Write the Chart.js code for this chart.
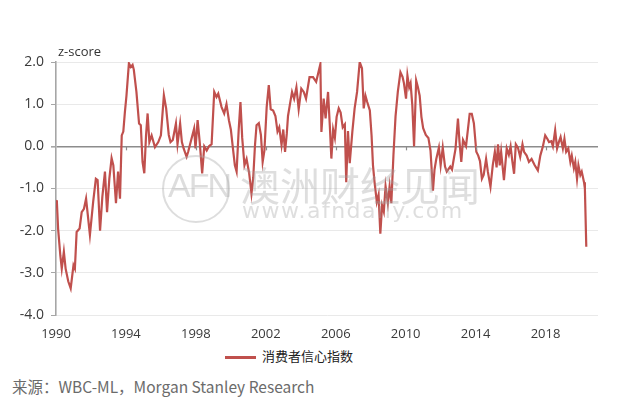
<!DOCTYPE html>
<html>
<head>
<meta charset="utf-8">
<script src="https://cdn.jsdelivr.net/npm/chart.js@4.4.0/dist/chart.umd.min.js"></script>
<style>
  body { margin: 0; background: #fff; }
  #wrap { position: relative; width: 640px; height: 411px; overflow: hidden; font-family: "Open Sans", sans-serif; }
  #chart-box { position: absolute; left: 0; top: 0; width: 640px; height: 345px; }
  .abs { position: absolute; white-space: nowrap; }
  #ytitle { left: 58px; top: 42px; font-size: 13px; color: #333; }
  #legend { left: 225px; top: 346px; font-family: "Noto Sans CJK SC", sans-serif; font-size: 13px; color: #222; }
  #legend .swatch { display: inline-block; width: 31px; height: 3px; background: #c0504d; vertical-align: middle; margin-right: 6px; }
  #source { left: 12px; top: 375px; font-family: "Noto Sans CJK SC", sans-serif; font-size: 15.5px; color: #6b6b6b; }
  #wm-circle { left: 162px; top: 155px; width: 64px; height: 64px; border: 2px solid rgba(170,170,170,0.4); border-radius: 50%; }
  #wm-afn { left: 168px; top: 166px; font-family: "Liberation Sans", sans-serif; font-size: 34px; color: rgba(170,170,170,0.4); letter-spacing: -2px; }
  #wm-cn { left: 240px; top: 160px; font-family: "Noto Sans CJK SC", sans-serif; font-size: 40px; color: rgba(160,160,160,0.35); line-height: 48px; }
  #wm-url { left: 242px; top: 198px; font-family: "DejaVu Sans", sans-serif; font-size: 22px; color: rgba(160,160,160,0.35); letter-spacing: 1.5px; }
</style>
</head>
<body>
<div id="wrap">
  <div id="chart-box"><canvas id="cci-chart" width="640" height="345"></canvas></div>
  <div id="ytitle" class="abs">z-score</div>
  <div id="wm-circle" class="abs"></div>
  <div id="wm-afn" class="abs">AFN</div>
  <div id="wm-cn" class="abs">澳洲财经见闻</div>
  <div id="wm-url" class="abs">www.afndaily.com</div>
  <div id="legend" class="abs"><span class="swatch"></span>消费者信心指数</div>
  <div id="source" class="abs">来源：WBC-ML，Morgan Stanley Research</div>
</div>
<script>
// Chart data
const years = [
  1990.00, 1990.05, 1990.12, 1990.25, 1990.33, 1990.45, 1990.55, 1990.70, 1990.84, 1991.00,
  1991.08, 1991.18, 1991.35, 1991.47, 1991.60, 1991.72, 1991.94, 1992.13, 1992.28, 1992.38,
  1992.52, 1992.65, 1992.80, 1992.92, 1993.05, 1993.18, 1993.28, 1993.43, 1993.55, 1993.66,
  1993.76, 1993.85, 1993.94, 1994.03, 1994.17, 1994.28, 1994.38, 1994.45, 1994.60, 1994.75,
  1994.85, 1994.95, 1995.05, 1995.15, 1995.24, 1995.34, 1995.47, 1995.66, 1995.85, 1996.00,
  1996.17, 1996.30, 1996.45, 1996.55, 1996.68, 1996.86, 1996.95, 1997.10, 1997.20, 1997.30,
  1997.47, 1997.56, 1997.75, 1997.90, 1997.98, 1998.10, 1998.22, 1998.36, 1998.48, 1998.62,
  1998.75, 1998.90, 1999.05, 1999.18, 1999.28, 1999.47, 1999.62, 1999.75, 1999.89, 2000.00,
  2000.12, 2000.23, 2000.33, 2000.45, 2000.55, 2000.65, 2000.78, 2000.90, 2001.05, 2001.18,
  2001.28, 2001.38, 2001.47, 2001.60, 2001.72, 2001.82, 2001.92, 2002.05, 2002.17, 2002.28,
  2002.42, 2002.55, 2002.67, 2002.77, 2002.90, 2003.00, 2003.10, 2003.20, 2003.27, 2003.37,
  2003.50, 2003.62, 2003.75, 2003.88, 2004.03, 2004.17, 2004.30, 2004.50, 2004.70, 2004.88,
  2004.99, 2005.12, 2005.18, 2005.31, 2005.42, 2005.56, 2005.66, 2005.75, 2005.85, 2005.95,
  2006.05, 2006.17, 2006.28, 2006.40, 2006.52, 2006.60, 2006.70, 2006.80, 2006.95, 2007.08,
  2007.22, 2007.37, 2007.50, 2007.60, 2007.70, 2007.80, 2007.95, 2008.05, 2008.13, 2008.22,
  2008.35, 2008.45, 2008.55, 2008.65, 2008.75, 2008.85, 2008.98, 2009.08, 2009.18, 2009.30,
  2009.42, 2009.55, 2009.70, 2009.82, 2009.90, 2010.02, 2010.10, 2010.20, 2010.28, 2010.38,
  2010.48, 2010.60, 2010.70, 2010.80, 2010.90, 2011.00, 2011.15, 2011.30, 2011.42, 2011.56,
  2011.65, 2011.75, 2011.90, 2012.00, 2012.12, 2012.25, 2012.35, 2012.55, 2012.65, 2012.75,
  2012.85, 2012.99, 2013.08, 2013.18, 2013.28, 2013.45, 2013.66, 2013.78, 2013.90, 2014.04,
  2014.15, 2014.25, 2014.36, 2014.46, 2014.60, 2014.70, 2014.85, 2014.98, 2015.10, 2015.20,
  2015.28, 2015.38, 2015.46, 2015.62, 2015.78, 2015.90, 2016.00, 2016.10, 2016.20, 2016.30,
  2016.42, 2016.55, 2016.68, 2016.77, 2016.92, 2017.05, 2017.20, 2017.38, 2017.56, 2017.70,
  2017.85, 2017.98, 2018.10, 2018.20, 2018.33, 2018.42, 2018.55, 2018.66, 2018.76, 2018.86,
  2018.99, 2019.08, 2019.18, 2019.30, 2019.42, 2019.50, 2019.62, 2019.70, 2019.80, 2019.88,
  2019.99, 2020.07, 2020.20, 2020.25, 2020.33
];
const zScores = [
  -1.28, -1.32, -1.95, -2.60, -2.90, -2.50, -2.90, -3.20, -3.37, -2.82,
  -2.90, -2.03, -1.95, -1.56, -1.48, -1.24, -2.10, -1.30, -0.77, -0.80,
  -2.00, -1.20, -0.60, -1.56, -0.77, -0.28, -0.45, -1.35, -0.60, -1.24,
  0.26, 0.35, 0.81, 1.20, 1.97, 1.88, 1.93, 1.82, 1.29, 0.54,
  0.50, -0.37, -0.64, 0.26, 0.78, 0.10, 0.26, -0.02, 0.10, 0.26,
  1.21, 0.90, 0.27, 0.10, 0.15, 0.54, 0.05, 0.54, 0.10, -0.05,
  -0.25, -0.13, 0.18, 0.42, -0.05, 0.62, 0.10, -0.64, 0.00, -0.10,
  0.00, 0.05, 1.29, 1.17, 1.25, 0.93, 0.78, 1.00, 0.62, 0.40,
  -0.05, -0.45, -0.60, 0.40, 1.05, 0.20, -0.45, -0.30, -0.64, -1.12,
  -0.75, 0.02, 0.50, 0.55, 0.27, -0.37, -0.10, 0.93, 1.45, 0.88,
  0.85, 0.72, 0.35, 0.45, 0.03, 0.40, -0.13, 0.30, 0.72, 0.97,
  1.29, 1.13, 1.40, 0.88, 1.37, 1.29, 1.13, 1.64, 1.64, 1.53,
  1.72, 1.95, 0.34, 1.13, 0.66, 1.29, 0.50, -0.29, 0.40, 0.20,
  0.70, 0.90, 0.80, 0.45, 0.52, -0.85, 0.36, -0.40, 0.35, 0.90,
  1.29, 2.00, 1.85, 0.90, 1.20, 1.05, 0.85, 0.25, -0.45, -0.85,
  -1.32, -1.15, -2.07, -1.40, -1.55, -0.95, -1.35, -0.95, -1.35, -0.21,
  0.71, 1.29, 1.76, 1.65, 1.50, 1.13, 1.68, 1.40, 1.50, 0.97,
  0.00, 1.56, 1.40, 1.20, 0.70, 0.43, 0.27, 0.20, -0.10, -1.05,
  -0.55, -0.30, -0.03, -0.45, -0.03, -0.48, -0.60, -0.48, -0.55, -0.30,
  -0.06, 0.66, 0.10, -0.37, 0.15, 0.00, 0.77, 0.77, 0.55, -0.13,
  -0.22, -0.35, -0.77, -0.68, -0.30, -0.60, -0.96, -0.45, -0.13, -0.50,
  0.05, -0.45, -0.13, -0.80, -0.05, -0.20, 0.00, -0.35, -0.65, 0.05,
  -0.03, -0.25, 0.05, -0.13, -0.22, -0.37, -0.30, -0.45, -0.57, -0.22,
  0.00, 0.26, 0.18, 0.10, 0.12, 0.00, 0.38, -0.05, 0.10, 0.22,
  -0.05, 0.18, -0.13, -0.05, -0.37, -0.22, -0.52, -0.37, -0.77, -0.45,
  -0.68, -0.60, -0.85, -1.00, -2.38
];
const yearTicks = [1990, 1994, 1998, 2002, 2006, 2010, 2014, 2018];
const seriesName = '消费者信心指数';

// Small tick marks on the zero line at each labelled year
const zeroTicks = {
    id: 'zeroTicks',
    afterDatasetsDraw(chart) {
        const ctx = chart.ctx;
        const xs = chart.scales.x;
        const y0 = chart.scales.y.getPixelForValue(0);
        ctx.save();
        ctx.strokeStyle = '#8c8c8c';
        ctx.lineWidth = 1.2;
        yearTicks.slice(1).forEach(yr => {
            const px = Math.round(xs.getPixelForValue(yr)) + 0.5;
            ctx.beginPath();
            ctx.moveTo(px, y0);
            ctx.lineTo(px, y0 + 4);
            ctx.stroke();
        });
        ctx.restore();
    }
};

const ctx = document.getElementById('cci-chart').getContext('2d');
const cciChart = new Chart(ctx, {
    type: 'line',
    data: {
        datasets: [{
            label: seriesName,
            data: years.map((yr, i) => ({ x: yr, y: zScores[i] })),
            borderColor: '#c0504d',
            borderWidth: 2.2,
            pointRadius: 0,
            tension: 0,
            fill: false
        }]
    },
    options: {
        responsive: false,
        animation: false,
        layout: {
            padding: { left: 0, right: 42, top: 62, bottom: 0 }
        },
        plugins: {
            legend: { display: false },
            tooltip: { enabled: false }
        },
        scales: {
            x: {
                type: 'linear',
                min: 1990,
                max: 2021,
                afterBuildTicks: scale => {
                    scale.ticks = yearTicks.map(v => ({ value: v }));
                },
                afterFit: scale => { scale.height = 30; },
                grid: { display: false, drawTicks: false },
                border: { display: false },
                ticks: {
                    padding: 11,
                    color: '#3a3a3a',
                    font: { family: 'Open Sans', size: 13 },
                    maxRotation: 0,
                    callback: v => String(v)
                }
            },
            y: {
                min: -4,
                max: 2,
                afterFit: scale => { scale.width = 56; },
                grid: {
                    color: c => c.tick.value === 0 ? '#8c8c8c' : '#e9e9e9',
                    lineWidth: c => c.tick.value === 0 ? 1.6 : 1,
                    tickColor: '#a6a6a6',
                    tickLength: 5
                },
                border: { display: true, color: '#a6a6a6', width: 1.6 },
                ticks: {
                    stepSize: 1,
                    padding: 7,
                    color: '#3a3a3a',
                    font: { family: 'Open Sans', size: 14 },
                    callback: v => v.toFixed(1)
                }
            }
        }
    },
    plugins: [zeroTicks]
});
</script>
</body>
</html>
